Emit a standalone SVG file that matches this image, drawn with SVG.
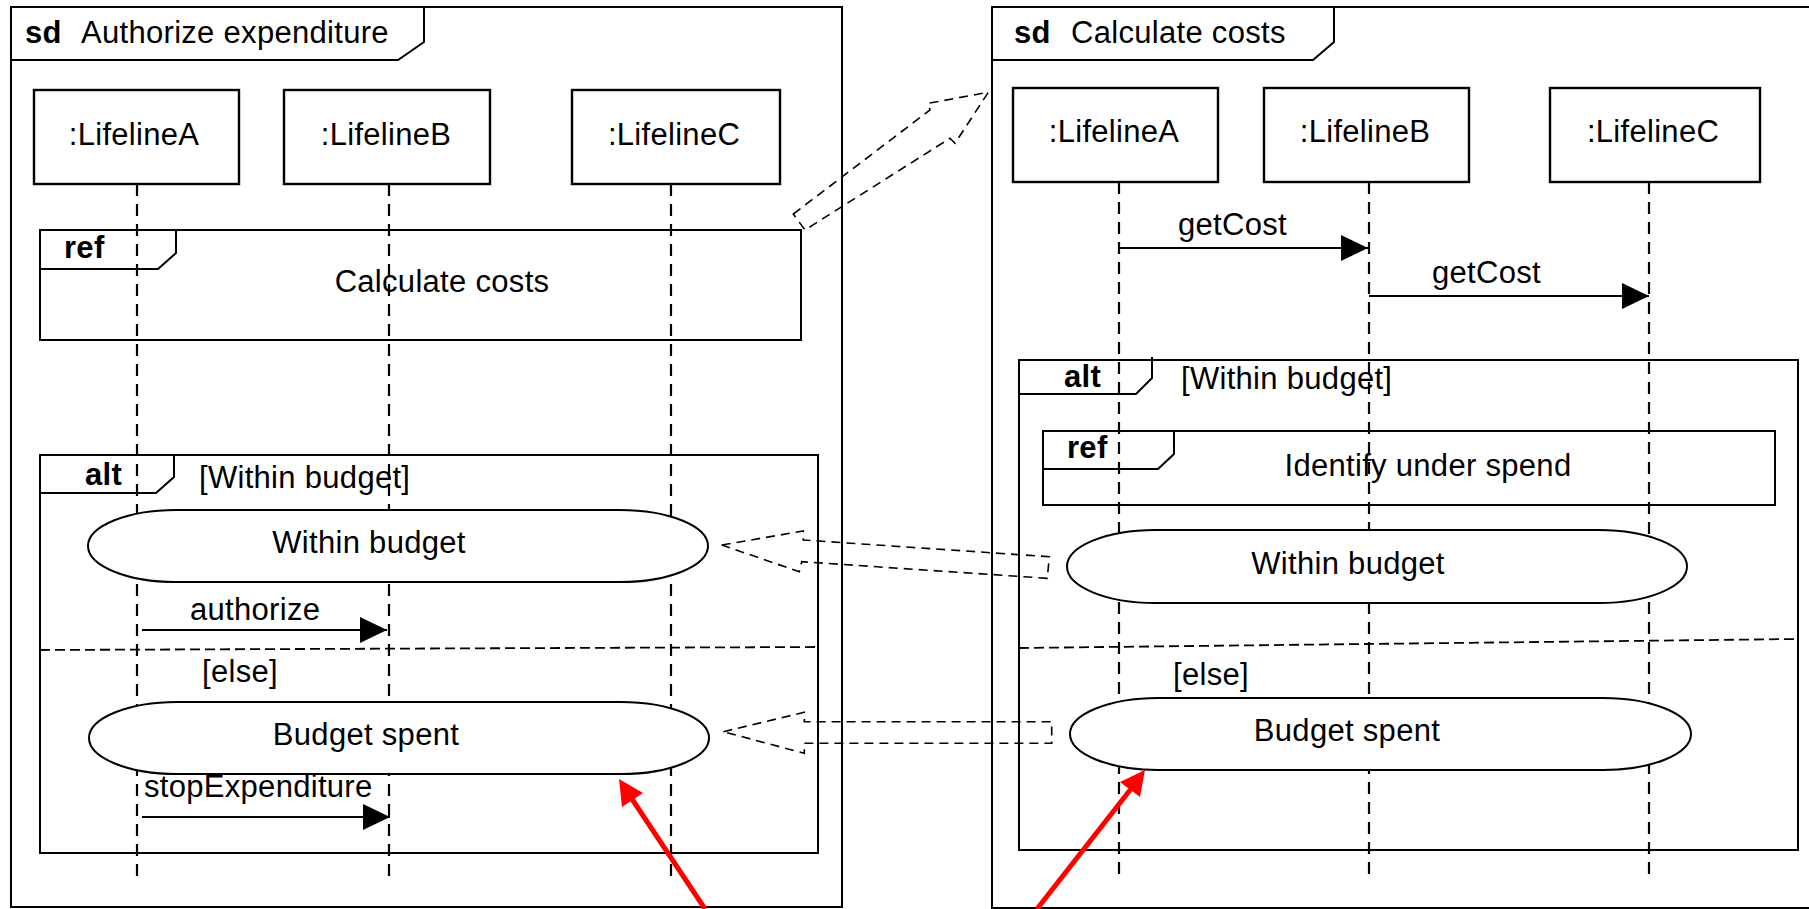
<svg xmlns="http://www.w3.org/2000/svg" width="1809" height="909" viewBox="0 0 1809 909">
<defs>
<style>
.t{font-family:"Liberation Sans",Arial,Helvetica,sans-serif;font-size:31px;fill:#000;letter-spacing:0.3px}
.b{font-weight:bold}
.m{text-anchor:middle}
.fr{fill:none;stroke:#000;stroke-width:2}
.box{fill:#fff;stroke:#000;stroke-width:2.4}
.ll{fill:none;stroke:#000;stroke-width:2.2;stroke-dasharray:12 8}
.div{fill:none;stroke:#000;stroke-width:1.8;stroke-dasharray:10 5}
.blk{fill:none;stroke:#000;stroke-width:1.6;stroke-dasharray:9 6;stroke-linejoin:miter}
.ov{fill:#fff;stroke:#000;stroke-width:2}
.msg{fill:none;stroke:#000;stroke-width:2;marker-end:url(#ah)}
.red{fill:none;stroke:#f00;stroke-width:5}
</style>
<marker id="ah" markerUnits="userSpaceOnUse" markerWidth="28" markerHeight="26" refX="27" refY="13" orient="auto">
<path d="M0,0 L27,13 L0,26 z" fill="#000"/>
</marker>
</defs>
<rect width="1809" height="909" fill="#fff"/>

<!-- LEFT DIAGRAM -->
<g id="frame-authorize">
<rect class="fr" x="11" y="7" width="831" height="900"/>
<path class="fr" d="M11,60 L398,60 L424,42 L424,7"/>
<text class="t b" x="25" y="43">sd</text>
<text class="t" x="81" y="43">Authorize expenditure</text>
</g>

<g id="lifelines-left">
<line class="ll" x1="137" y1="184" x2="137" y2="883"/>
<line class="ll" x1="389" y1="184" x2="389" y2="883"/>
<line class="ll" x1="671" y1="184" x2="671" y2="883"/>
</g>

<g id="L-lifelineA">
<rect class="box" x="34" y="90" width="205" height="94"/>
<text class="t m" x="134" y="145">:LifelineA</text>
</g>
<g id="L-lifelineB">
<rect class="box" x="284" y="90" width="206" height="94"/>
<text class="t m" x="386" y="145">:LifelineB</text>
</g>
<g id="L-lifelineC">
<rect class="box" x="572" y="90" width="208" height="94"/>
<text class="t m" x="674" y="145">:LifelineC</text>
</g>

<g id="L-ref-calculate">
<rect class="fr" x="40" y="230" width="761" height="110"/>
<path class="fr" d="M40,269 L158,269 L176,253 L176,230"/>
<text class="t b" x="64" y="258">ref</text>
<text class="t m" x="442" y="292">Calculate costs</text>
</g>

<g id="L-alt">
<rect class="fr" x="40" y="455" width="778" height="398"/>
<path class="fr" d="M40,493 L156,493 L174,477 L174,455"/>
<text class="t b" x="85" y="485">alt</text>
<text class="t" x="199" y="488">[Within budget]</text>
<line class="div" x1="40" y1="650" x2="818" y2="647"/>
<text class="t" x="202" y="682">[else]</text>
</g>

<g id="L-state-within">
<rect class="ov" x="88" y="510" width="620" height="72" rx="88" ry="36"/>
<text class="t m" x="369" y="553">Within budget</text>
</g>
<g id="L-state-spent">
<rect class="ov" x="89" y="702" width="620" height="72" rx="88" ry="36"/>
<text class="t m" x="366" y="745">Budget spent</text>
</g>

<!-- RIGHT DIAGRAM -->
<g id="frame-calculate">
<path class="fr" d="M1815,7 L992,7 L992,908 L1815,908"/>
<path class="fr" d="M992,60 L1313,60 L1334,42 L1334,7"/>
<text class="t b" x="1014" y="43">sd</text>
<text class="t" x="1071" y="43">Calculate costs</text>
</g>

<g id="lifelines-right">
<line class="ll" x1="1119" y1="182" x2="1119" y2="880"/>
<line class="ll" x1="1369" y1="182" x2="1369" y2="880"/>
<line class="ll" x1="1649" y1="182" x2="1649" y2="880"/>
</g>

<g id="R-lifelineA">
<rect class="box" x="1013" y="88" width="205" height="94"/>
<text class="t m" x="1114" y="142">:LifelineA</text>
</g>
<g id="R-lifelineB">
<rect class="box" x="1264" y="88" width="205" height="94"/>
<text class="t m" x="1365" y="142">:LifelineB</text>
</g>
<g id="R-lifelineC">
<rect class="box" x="1550" y="88" width="210" height="94"/>
<text class="t m" x="1653" y="142">:LifelineC</text>
</g>

<g id="R-alt">
<rect class="fr" x="1019" y="360" width="779" height="490"/>
<path class="fr" d="M1019,394 L1136,394 L1152,378 L1152,357"/>
<text class="t b" x="1064" y="387">alt</text>
<text class="t" x="1181" y="389">[Within budget]</text>
<line class="div" x1="1019" y1="648" x2="1798" y2="639"/>
<text class="t" x="1173" y="685">[else]</text>
</g>

<g id="R-ref-identify">
<rect class="fr" x="1043" y="431" width="732" height="74"/>
<path class="fr" d="M1043,469 L1158,469 L1174,454 L1174,431"/>
<text class="t b" x="1067" y="458">ref</text>
<text class="t m" x="1428" y="476">Identify under spend</text>
</g>

<g id="R-state-within">
<rect class="ov" x="1067" y="530" width="620" height="73" rx="88" ry="36.5"/>
<text class="t m" x="1348" y="574">Within budget</text>
</g>
<g id="R-state-spent">
<rect class="ov" x="1070" y="698" width="621" height="72" rx="88" ry="36"/>
<text class="t m" x="1347" y="741">Budget spent</text>
</g>

<!-- CONNECTORS -->
<g id="connectors">
<line class="msg" x1="142" y1="630" x2="387" y2="630"/>
<text class="t" x="190" y="620">authorize</text>
<line class="msg" x1="142" y1="817" x2="390" y2="817"/>
<text class="t" x="144" y="797">stopExpenditure</text>
<line class="msg" x1="1119" y1="248" x2="1368" y2="248"/>
<text class="t" x="1178" y="235">getCost</text>
<line class="msg" x1="1369" y1="296" x2="1649" y2="296"/>
<text class="t" x="1432" y="283">getCost</text>

<polygon class="blk" points="793.3,214 930,110 928.3,103.3 988.3,92.3 955,143.3 950,138.3 805,230"/>
<polygon class="blk" points="721.7,545 803.3,531 803.3,540 1049.3,556.7 1047.3,578.3 801.7,561.7 799.3,571.7"/>
<polygon class="blk" points="723.3,731.7 804.3,712.3 804.3,721.7 1051.7,721.7 1051.7,743.3 804.3,743.3 804.3,753.3"/>

<line class="red" x1="705" y1="909" x2="630" y2="796"/>
<polygon points="619,779 622,807 643,793" fill="#f00"/>
<line class="red" x1="1037" y1="909" x2="1134" y2="785"/>
<polygon points="1145,770 1120,782 1140,797" fill="#f00"/>
</g>
</svg>
